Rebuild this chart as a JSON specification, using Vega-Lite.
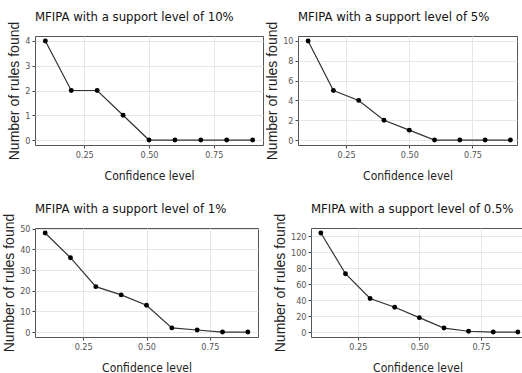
{
  "$schema": "https://vega.github.io/schema/vega-lite/v6.json",
  "padding": {"left": 2, "top": 10, "right": 0, "bottom": 0},
  "background": "white",
  "spacing": 20,
  "data": {"values": [
    {"support": "10%", "confidence": 0.1, "rules": 4},
    {"support": "10%", "confidence": 0.2, "rules": 2},
    {"support": "10%", "confidence": 0.3, "rules": 2},
    {"support": "10%", "confidence": 0.4, "rules": 1},
    {"support": "10%", "confidence": 0.5, "rules": 0},
    {"support": "10%", "confidence": 0.6, "rules": 0},
    {"support": "10%", "confidence": 0.7, "rules": 0},
    {"support": "10%", "confidence": 0.8, "rules": 0},
    {"support": "10%", "confidence": 0.9, "rules": 0},
    {"support": "5%", "confidence": 0.1, "rules": 10},
    {"support": "5%", "confidence": 0.2, "rules": 5},
    {"support": "5%", "confidence": 0.3, "rules": 4},
    {"support": "5%", "confidence": 0.4, "rules": 2},
    {"support": "5%", "confidence": 0.5, "rules": 1},
    {"support": "5%", "confidence": 0.6, "rules": 0},
    {"support": "5%", "confidence": 0.7, "rules": 0},
    {"support": "5%", "confidence": 0.8, "rules": 0},
    {"support": "5%", "confidence": 0.9, "rules": 0},
    {"support": "1%", "confidence": 0.1, "rules": 48},
    {"support": "1%", "confidence": 0.2, "rules": 36},
    {"support": "1%", "confidence": 0.3, "rules": 22},
    {"support": "1%", "confidence": 0.4, "rules": 18},
    {"support": "1%", "confidence": 0.5, "rules": 13},
    {"support": "1%", "confidence": 0.6, "rules": 2},
    {"support": "1%", "confidence": 0.7, "rules": 1},
    {"support": "1%", "confidence": 0.8, "rules": 0},
    {"support": "1%", "confidence": 0.9, "rules": 0},
    {"support": "0.5%", "confidence": 0.1, "rules": 124},
    {"support": "0.5%", "confidence": 0.2, "rules": 73},
    {"support": "0.5%", "confidence": 0.3, "rules": 42},
    {"support": "0.5%", "confidence": 0.4, "rules": 31},
    {"support": "0.5%", "confidence": 0.5, "rules": 18},
    {"support": "0.5%", "confidence": 0.6, "rules": 5},
    {"support": "0.5%", "confidence": 0.7, "rules": 1},
    {"support": "0.5%", "confidence": 0.8, "rules": 0},
    {"support": "0.5%", "confidence": 0.9, "rules": 0}
  ]},
  "config": {
    "view": {"stroke": "#555", "strokeWidth": 1},
    "title": {"font": "'DejaVu Sans Condensed', 'Liberation Sans', sans-serif", "fontSize": 13, "fontWeight": "normal", "color": "#111", "anchor": "start", "frame": "group", "offset": -2.5},
    "axis": {
      "labelFont": "'DejaVu Sans Condensed', 'Liberation Sans', sans-serif", "labelFontSize": 9, "labelColor": "#555",
      "titleFont": "'DejaVu Sans Condensed', 'Liberation Sans', sans-serif", "titleFontSize": 12, "titleFontWeight": "normal", "titleColor": "#222",
      "tickColor": "#444", "tickSize": 3, "domain": false,
      "gridColor": "#e6e6e6", "gridWidth": 1, "labelPadding": 2, "titlePadding": 3, "minExtent": 0
    },
    "axisX": {"titlePadding": 11},
    "axisY": {"titleFont": "'Liberation Sans', sans-serif", "titleFontSize": 14}
  },
  "vconcat": [
    {"spacing": 1, "hconcat": [
      {
        "title": "MFIPA with a support level of 10%",
        "width": 228, "height": 109,
        "transform": [{"filter": "datum.support == '10%'"}],
        "layer": [
          {"mark": {"type": "line", "color": "#333", "strokeWidth": 1.2},
           "encoding": {
             "x": {"field": "confidence", "type": "quantitative", "scale": {"domain": [0.06, 0.94], "nice": false, "zero": false},
                   "axis": {"values": [0.25, 0.5, 0.75], "format": ".2f", "title": "Confidence level"}},
             "y": {"field": "rules", "type": "quantitative", "scale": {"domain": [-0.2, 4.2], "nice": false, "zero": false},
                   "axis": {"values": [0, 1, 2, 3, 4], "title": "Number of rules found"}}}},
          {"mark": {"type": "circle", "color": "#000", "size": 24, "opacity": 1},
           "encoding": {
             "x": {"field": "confidence", "type": "quantitative",
                   "axis": {"values": [0.125, 0.375, 0.625, 0.875], "labels": false, "ticks": false, "title": null, "gridColor": "#f3f3f3", "gridWidth": 0.6, "maxExtent": 0}},
             "y": {"field": "rules", "type": "quantitative",
                   "axis": {"values": [0.5, 1.5, 2.5, 3.5], "labels": false, "ticks": false, "title": null, "gridColor": "#f3f3f3", "gridWidth": 0.6, "maxExtent": 0}}}}
        ],
        "resolve": {"axis": {"x": "independent", "y": "independent"}}
      },
      {
        "title": "MFIPA with a support level of 5%",
        "width": 219, "height": 109,
        "transform": [{"filter": "datum.support == '5%'"}],
        "layer": [
          {"mark": {"type": "line", "color": "#333", "strokeWidth": 1.2},
           "encoding": {
             "x": {"field": "confidence", "type": "quantitative", "scale": {"domain": [0.06, 0.926], "nice": false, "zero": false},
                   "axis": {"values": [0.25, 0.5, 0.75], "format": ".2f", "title": "Confidence level"}},
             "y": {"field": "rules", "type": "quantitative", "scale": {"domain": [-0.5, 10.5], "nice": false, "zero": false},
                   "axis": {"values": [0, 2, 4, 6, 8, 10], "title": "Number of rules found"}}}},
          {"mark": {"type": "circle", "color": "#000", "size": 24, "opacity": 1},
           "encoding": {
             "x": {"field": "confidence", "type": "quantitative",
                   "axis": {"values": [0.125, 0.375, 0.625, 0.875], "labels": false, "ticks": false, "title": null, "gridColor": "#f3f3f3", "gridWidth": 0.6, "maxExtent": 0}},
             "y": {"field": "rules", "type": "quantitative",
                   "axis": {"values": [1, 3, 5, 7, 9], "labels": false, "ticks": false, "title": null, "gridColor": "#f3f3f3", "gridWidth": 0.6, "maxExtent": 0}}}}
        ],
        "resolve": {"axis": {"x": "independent", "y": "independent"}}
      }
    ]},
    {"spacing": 14, "hconcat": [
      {
        "title": "MFIPA with a support level of 1%",
        "width": 223, "height": 109,
        "transform": [{"filter": "datum.support == '1%'"}],
        "layer": [
          {"mark": {"type": "line", "color": "#333", "strokeWidth": 1.2},
           "encoding": {
             "x": {"field": "confidence", "type": "quantitative", "scale": {"domain": [0.06, 0.94], "nice": false, "zero": false},
                   "axis": {"values": [0.25, 0.5, 0.75], "format": ".2f", "title": "Confidence level"}},
             "y": {"field": "rules", "type": "quantitative", "scale": {"domain": [-2.4, 50.4], "nice": false, "zero": false},
                   "axis": {"values": [0, 10, 20, 30, 40, 50], "title": "Number of rules found"}}}},
          {"mark": {"type": "circle", "color": "#000", "size": 24, "opacity": 1},
           "encoding": {
             "x": {"field": "confidence", "type": "quantitative",
                   "axis": {"values": [0.125, 0.375, 0.625, 0.875], "labels": false, "ticks": false, "title": null, "gridColor": "#f3f3f3", "gridWidth": 0.6, "maxExtent": 0}},
             "y": {"field": "rules", "type": "quantitative",
                   "axis": {"values": [5, 15, 25, 35, 45], "labels": false, "ticks": false, "title": null, "gridColor": "#f3f3f3", "gridWidth": 0.6, "maxExtent": 0}}}}
        ],
        "resolve": {"axis": {"x": "independent", "y": "independent"}}
      },
      {
        "title": "MFIPA with a support level of 0.5%",
        "width": 213, "height": 109,
        "transform": [{"filter": "datum.support == '0.5%'"}],
        "layer": [
          {"mark": {"type": "line", "color": "#333", "strokeWidth": 1.2},
           "encoding": {
             "x": {"field": "confidence", "type": "quantitative", "scale": {"domain": [0.06, 0.925], "nice": false, "zero": false},
                   "axis": {"values": [0.25, 0.5, 0.75], "format": ".2f", "title": "Confidence level"}},
             "y": {"field": "rules", "type": "quantitative", "scale": {"domain": [-6.2, 130.2], "nice": false, "zero": false},
                   "axis": {"values": [0, 20, 40, 60, 80, 100, 120], "title": "Number of rules found"}}}},
          {"mark": {"type": "circle", "color": "#000", "size": 24, "opacity": 1},
           "encoding": {
             "x": {"field": "confidence", "type": "quantitative",
                   "axis": {"values": [0.125, 0.375, 0.625, 0.875], "labels": false, "ticks": false, "title": null, "gridColor": "#f3f3f3", "gridWidth": 0.6, "maxExtent": 0}},
             "y": {"field": "rules", "type": "quantitative",
                   "axis": {"values": [10, 30, 50, 70, 90, 110], "labels": false, "ticks": false, "title": null, "gridColor": "#f3f3f3", "gridWidth": 0.6, "maxExtent": 0}}}}
        ],
        "resolve": {"axis": {"x": "independent", "y": "independent"}}
      }
    ]}
  ]
}
